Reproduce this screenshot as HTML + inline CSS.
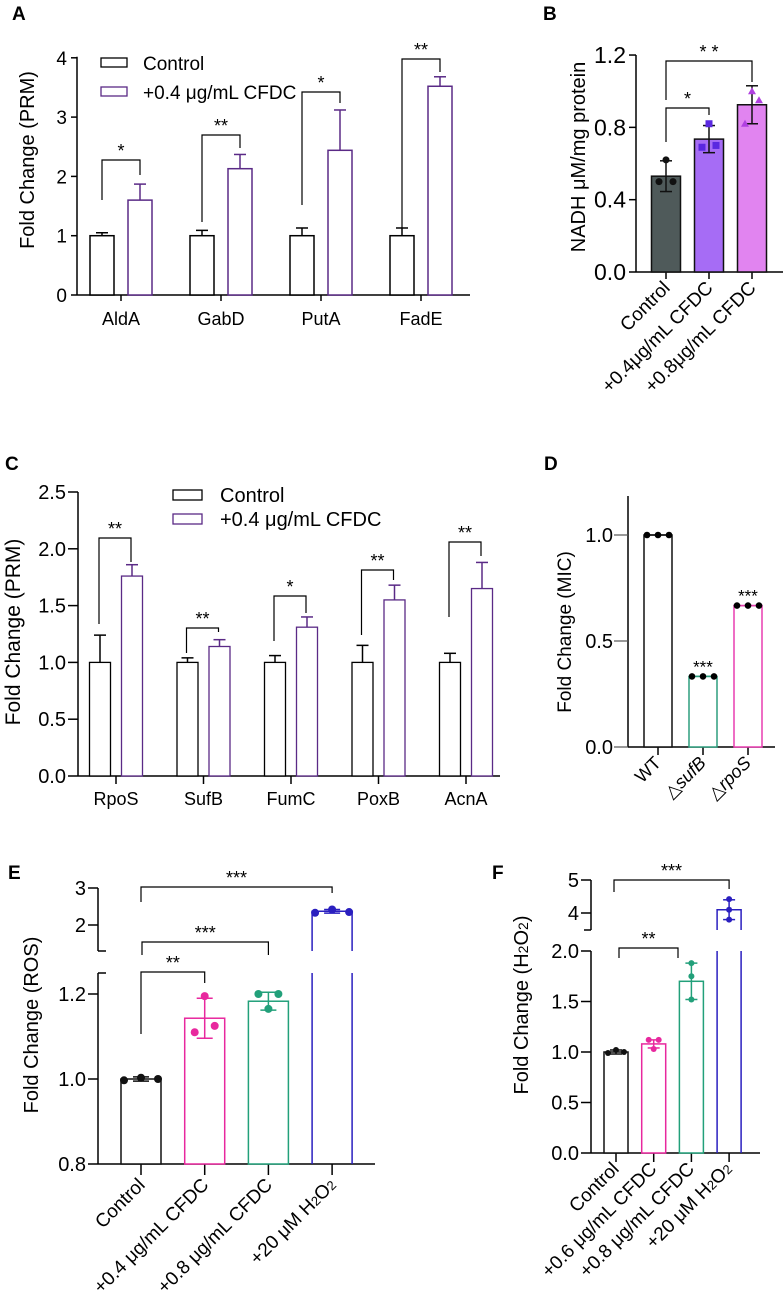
<!DOCTYPE html>
<html><head><meta charset="utf-8">
<style>
html,body{margin:0;padding:0;background:#fff;}
svg{display:block;font-family:"Liberation Sans",Arial,sans-serif;}
</style></head>
<body>
<svg id="fig" width="783" height="1299" viewBox="0 0 783 1299" xmlns="http://www.w3.org/2000/svg"></svg>
<script>
// ---- Panel A data
const aCats=["AldA","GabD","PutA","FadE"];
const aCtrl=[1.0,1.0,1.0,1.0];
const aCtrlErr=[0.05,0.09,0.13,0.13];
const aTrt=[1.6,2.13,2.44,3.52];
const aTrtErr=[0.27,0.24,0.68,0.16];
const aSig=["*","**","*","**"];
const aTicks=[0,1,2,3,4];
// ---- Panel B data
const bCats=["Control","+0.4μg/mL CFDC","+0.8μg/mL CFDC"];
const bMeans=[0.53,0.735,0.925];
const bErr=[0.085,0.075,0.105];
const bPts=[[0.50,0.62,0.50],[0.69,0.82,0.70],[0.82,1.0,0.95]];
const bTicks=[0.0,0.4,0.8,1.2];
// ---- Panel C data
const cCats=["RpoS","SufB","FumC","PoxB","AcnA"];
const cCtrl=[1.0,1.0,1.0,1.0,1.0];
const cCtrlErr=[0.24,0.04,0.06,0.15,0.08];
const cTrt=[1.76,1.14,1.31,1.55,1.65];
const cTrtErr=[0.10,0.06,0.09,0.13,0.23];
const cSig=["**","**","*","**","**"];
const cTicks=[0.0,0.5,1.0,1.5,2.0,2.5];
// ---- Panel D data
const dCats=["WT","sufB","rpoS"];
const dVals=[1.0,0.333,0.667];
const dTicks=[0.0,0.5,1.0];
// ---- Panel E data
const eCats=["Control","+0.4 μg/mL CFDC","+0.8 μg/mL CFDC","+20 μM H"];
const eMeans=[1.0,1.143,1.183,2.37];
const eErr=[0.005,0.047,0.021,0.05];
const ePts=[[0.997,1.003,1.0],[1.11,1.195,1.125],[1.2,1.165,1.2],[2.33,2.42,2.35]];
const eTicksLow=[0.8,1.0,1.2];
const eTicksHigh=[2,3];
// ---- Panel F data
const fCats=["Control","+0.6 μg/mL CFDC","+0.8 μg/mL CFDC","+20 μM H"];
const fMeans=[1.0,1.08,1.70,4.1];
const fErr=[0.02,0.04,0.18,0.3];
const fPts=[[0.99,1.02,1.0],[1.12,1.03,1.12],[1.52,1.75,1.88],[3.8,4.1,4.42]];
const fTicksLow=[0.0,0.5,1.0,1.5,2.0];
const fTicksHigh=[4,5];

const svg=document.getElementById('fig');
const NS="http://www.w3.org/2000/svg";
function mk(tag,at,parent){const e=document.createElementNS(NS,tag);for(const k in at)e.setAttribute(k,at[k]);(parent||svg).appendChild(e);return e;}
function ln(x1,y1,x2,y2,c,w,p){return mk('line',{x1,y1,x2,y2,stroke:c||'#000','stroke-width':w||1.5},p);}
function tx(x,y,s,sz,anchor,p,extra){const t=mk('text',Object.assign({x,y,'font-size':sz,'text-anchor':anchor||'start',fill:'#000'},extra||{}),p);t.textContent=s;return t;}
function grp(name){const g=mk('g',{});return g;}
function bracket(g,x1,x2,yTop,yL,yR,lab,fs){const p=mk('path',{d:`M${x1},${yL}V${yTop}H${x2}V${yR}`,fill:'none',stroke:'#000','stroke-width':1.2},g);const t=tx((x1+x2)/2,yTop-3,lab,fs||18,'middle',g);}
function panelLabel(x,y,s){const t=tx(x,y,s,19,'start',svg,{'font-weight':'bold'});}
function ylab(x,y,s,sz,p){const t=tx(x,y,s,sz,'middle',p,{transform:`rotate(-90 ${x} ${y})`});return t;}
function errbar(g,x,yc,yt,c,hw,both,yb){ln(x,yc,x,yt,c,1.5,g);ln(x-hw,yt,x+hw,yt,c,1.5,g);if(both){ln(x,yc,x,yb,c,1.5,g);ln(x-hw,yb,x+hw,yb,c,1.5,g);}}

// ================= Panel A
panelLabel(12,20,"A");
(function(){
 const g=grp('panel-a-chart');
 const X0=77,X1=470,y=v=>295-v*59.3;
 const cx=i=>121+i*100;
 ln(X0,y(4)-1,X0,295,'#000',1.5,g);ln(X0,295,X1,295,'#000',1.5,g);
 aTicks.forEach(t=>{ln(X0-6,y(t),X0,y(t),'#000',1.5,g);const l=tx(X0-10,y(t)+7,String(t),19,'end',g);});
 const bl=[200,222,205,228],br=[175,148,103,72],bt=[160,135,92,59];
 aCats.forEach((c,i)=>{
  ln(cx(i),295,cx(i),301,'#000',1.5,g);
  const l=tx(cx(i),325,c,18,'middle',g);
  const x1=cx(i)-19,x2=cx(i)+19,w=24;
  errbar(g,x1,y(aCtrl[i]),y(aCtrl[i]+aCtrlErr[i]),'#000',6);
  const r1=mk('rect',{x:x1-w/2,y:y(aCtrl[i]),width:w,height:295-y(aCtrl[i]),fill:'#fff',stroke:'#000','stroke-width':1.5},g);
  
  errbar(g,x2,y(aTrt[i]),y(aTrt[i]+aTrtErr[i]),'#5a2a86',6);
  const r2=mk('rect',{x:x2-w/2,y:y(aTrt[i]),width:w,height:295-y(aTrt[i]),fill:'#fff',stroke:'#5a2a86','stroke-width':1.5},g);
  
  bracket(g,x1,x2,bt[i],bl[i],br[i],aSig[i]);
 });
 ylab(34,160,"Fold Change (PRM)",20,g);
 const lg=grp('legend');
 const e1=mk('rect',{x:101,y:58,width:26,height:9,fill:'#fff',stroke:'#000','stroke-width':1.3},lg);
 tx(143,70,"Control",19,'start',lg);
 const e2=mk('rect',{x:101,y:87,width:26,height:9,fill:'#fff',stroke:'#5a2a86','stroke-width':1.3},lg);
 tx(143,99,"+0.4 μg/mL CFDC",19,'start',lg);
})();

// ================= Panel B
panelLabel(543,20,"B");
(function(){
 const g=grp('panel-b-chart');
 const X0=636,Y0=272,y=v=>Y0-v*180.8;
 const cx=i=>666+i*43;
 const fills=['#4f5a5a','#a66cf5','#e184f0'];
 const pc=['#111','#5a28e0','#b040e0'];
 ln(X0,y(1.2),X0,Y0,'#000',1.5,g);ln(X0,Y0,783,Y0,'#000',1.5,g);
 bTicks.forEach(t=>{ln(X0-7,y(t),X0,y(t),'#000',1.5,g);const l=tx(X0-10,y(t)+8,t.toFixed(1),23,'end',g);});
 bCats.forEach((c,i)=>{
  const x=cx(i);ln(x,Y0,x,Y0+7,'#000',1.5,g);
  const r=mk('rect',{x:x-14.5,y:y(bMeans[i]),width:29,height:Y0-y(bMeans[i]),fill:fills[i],stroke:'#111','stroke-width':1.5},g);
  
  errbar(g,x,y(bMeans[i]),y(bMeans[i]+bErr[i]),'#111',6,true,y(bMeans[i]-bErr[i]));
  bPts[i].forEach((v,j)=>{const px=x+(j-1)*7*(j==1?0:1);
   let m;
   if(i==0)m=mk('circle',{cx:px,cy:y(v),r:3.5,fill:pc[i]},g);
   else if(i==1)m=mk('rect',{x:px-3.5,y:y(v)-3.5,width:7,height:7,fill:pc[i]},g);
   else m=mk('polygon',{points:`${px},${y(v)-4} ${px-4},${y(v)+3} ${px+4},${y(v)+3}`,fill:pc[i]},g);
   });
  const l=tx(x+5,Y0+17,c,19,'end',g,{transform:`rotate(-45 ${x+5} ${Y0+17})`});
 });
 bracket(g,cx(0),cx(1),108,142,115,"*");
 bracket(g,cx(0),cx(2),61,100,82,"* *");
 ylab(585,157,"NADH μM/mg protein",20,g);
})();

// ================= Panel C
panelLabel(5,470,"C");
(function(){
 const g=grp('panel-c-chart');
 const X0=78,X1=500,Y0=776,y=v=>Y0-v*113.6;
 const cx=i=>116+i*87.5;
 ln(X0,y(2.5),X0,Y0,'#000',1.5,g);ln(X0,Y0,X1,Y0,'#000',1.5,g);
 cTicks.forEach(t=>{ln(X0-10,y(t),X0,y(t),'#000',1.5,g);const l=tx(X0-12,y(t)+7,t.toFixed(1),20,'end',g);});
 const bl=[624,653,641,635,617],br=[562,632,613,580,556],bt=[538,628,596,570,542];
 cCats.forEach((c,i)=>{
  const x=cx(i);ln(x,Y0,x,Y0+8,'#000',1.5,g);
  const l=tx(x,805,c,18,'middle',g);
  const x1=x-16,x2=x+16,w=21;
  errbar(g,x1,y(cCtrl[i]),y(cCtrl[i]+cCtrlErr[i]),'#000',6);
  const r1=mk('rect',{x:x1-w/2,y:y(cCtrl[i]),width:w,height:Y0-y(cCtrl[i]),fill:'#fff',stroke:'#000','stroke-width':1.3},g);
  
  errbar(g,x2,y(cTrt[i]),y(cTrt[i]+cTrtErr[i]),'#5a2a86',6);
  const r2=mk('rect',{x:x2-w/2,y:y(cTrt[i]),width:w,height:Y0-y(cTrt[i]),fill:'#fff',stroke:'#5a2a86','stroke-width':1.3},g);
  
  bracket(g,x1-1,x2-1,bt[i],bl[i],br[i],cSig[i]);
 });
 ylab(20,632,"Fold Change (PRM)",21,g);
 const lg=grp('legend');
 const e1=mk('rect',{x:173,y:490,width:29,height:10,fill:'#fff',stroke:'#000','stroke-width':1.3},lg);
 tx(220,502,"Control",20,'start',lg);
 const e2=mk('rect',{x:173,y:514,width:29,height:10,fill:'#fff',stroke:'#5a2a86','stroke-width':1.3},lg);
 tx(220,526,"+0.4 μg/mL CFDC",20,'start',lg);
})();

// ================= Panel D
panelLabel(544,470,"D");
(function(){
 const g=grp('panel-d-chart');
 const X0=628,Y0=747,y=v=>Y0-v*212;
 const cx=i=>658+i*45;
 const cols=['#111','#2e9e7e','#e83eb0'];
 ln(X0,496,X0,Y0,'#000',1.5,g);ln(X0,Y0,775,Y0,'#000',1.5,g);
 dTicks.forEach(t=>{ln(X0-14,y(t),X0,y(t),'#555',1.2,g);const l=tx(X0-15,y(t)+7,t.toFixed(1),20,'end',g);});
 dCats.forEach((c,i)=>{
  const x=cx(i);ln(x,Y0,x,Y0+8,'#000',1.5,g);
  const r=mk('rect',{x:x-14,y:y(dVals[i]),width:28,height:Y0-y(dVals[i]),fill:'#fff',stroke:cols[i],'stroke-width':1.5},g);
  
  ln(x-11,y(dVals[i]),x+11,y(dVals[i]),cols[i],1.5,g);
  [-11,0,11].forEach(dx=>{const m=mk('circle',{cx:x+dx,cy:y(dVals[i]),r:3.3,fill:'#000'},g);});
  if(i>0){const s=tx(x,y(dVals[i])-4,"***",17,'middle',g);}
  const ax=x+4,ay=Y0+17;
  const l=mk('text',{x:ax,y:ay,'font-size':18,'text-anchor':'end',transform:`rotate(-45 ${ax} ${ay})`,fill:'#000'},g);
  
  if(i==0)l.textContent=c;else{const a=mk('tspan',{},l);a.textContent='△';const b=mk('tspan',{'font-style':'italic'},l);b.textContent=c;}
 });
 ylab(571,632,"Fold Change (MIC)",19,g);
})();

// ================= Panel E
panelLabel(8,879,"E");
(function(){
 const g=grp('panel-e-chart');
 const X0=98,Y0=1164;
 const y=v=>v<=1.3?Y0-(v-0.8)*425:925-(v-2)*37;
 const cx=i=>141+i*63.7;
 const cols=['#111','#e8289e','#22a07a','#2a1fbf'];
 ln(X0,973,X0,Y0,'#000',1.5,g);ln(X0,888,X0,951,'#000',1.5,g);
 ln(X0,973,X0+8,973,'#000',1.5,g);ln(X0,951,X0+8,951,'#000',1.5,g);
 ln(X0,Y0,375,Y0,'#000',1.5,g);
 eTicksLow.forEach(t=>{ln(X0-10,y(t),X0,y(t),'#000',1.5,g);const l=tx(X0-12,y(t)+7,t.toFixed(1),20,'end',g);});
 eTicksHigh.forEach(t=>{ln(X0-10,y(t),X0,y(t),'#000',1.5,g);const l=tx(X0-12,y(t)+7,String(t),20,'end',g);});
 eCats.forEach((c,i)=>{
  const x=cx(i),hw=20;ln(x,Y0,x,Y0+11,'#000',1.5,g);
  if(eMeans[i]<1.3){
   const r=mk('rect',{x:x-hw,y:y(eMeans[i]),width:2*hw,height:Y0-y(eMeans[i]),fill:'#fff',stroke:cols[i],'stroke-width':1.5},g);
   
  } else {
   const r=mk('path',{d:`M${x-hw},${Y0}V973M${x+hw},${Y0}V973M${x-hw},951V${y(eMeans[i])}H${x+hw}V951`,fill:'none',stroke:cols[i],'stroke-width':1.5},g);
   
  }
  errbar(g,x,y(eMeans[i]),y(eMeans[i]+eErr[i]),cols[i],8,true,y(eMeans[i]-eErr[i]));
  ePts[i].forEach((v,j)=>{const m=mk('circle',{cx:x+(j-1)*(i==3?17:i==0?17:10),cy:y(v),r:4,fill:cols[i]},g);});
  const ax=x+5,ay=Y0+22;
  const l=mk('text',{x:ax,y:ay,'font-size':19,'text-anchor':'end',transform:`rotate(-45 ${ax} ${ay})`,fill:'#000'},g);
  
  if(i<3)l.textContent=c;else{l.textContent=c;const a=mk('tspan',{'font-size':13},l);a.textContent='2';const b=mk('tspan',{},l);b.textContent='O';const d=mk('tspan',{'font-size':13},l);d.textContent='2';}
 });
 bracket(g,cx(0),cx(3),887,902,893,"***");
 bracket(g,cx(0)+1,cx(2),942,955,955,"***");
 bracket(g,cx(0),cx(1),972,1034,983,"**");
 ylab(38,1025,"Fold Change (ROS)",20,g);
})();

// ================= Panel F
panelLabel(492,879,"F");
(function(){
 const g=grp('panel-f-chart');
 const X0=591,Y0=1153;
 const y=v=>v<=2.2?Y0-v*101:913-(v-4)*33;
 const cx=i=>616+i*37.7;
 const cols=['#111','#e8289e','#22a07a','#2a1fbf'];
 ln(X0,951,X0,Y0,'#000',1.5,g);ln(X0,880,X0,930,'#000',1.5,g);
 ln(X0-7,930,X0,930,'#000',1.5,g);
 ln(X0,Y0,760,Y0,'#000',1.5,g);
 fTicksLow.forEach(t=>{ln(X0-10,y(t),X0,y(t),'#000',1.5,g);const l=tx(X0-12,y(t)+7,t.toFixed(1),20,'end',g);});
 fTicksHigh.forEach(t=>{ln(X0-10,y(t),X0,y(t),'#000',1.5,g);const l=tx(X0-12,y(t)+7,String(t),20,'end',g);});
 fCats.forEach((c,i)=>{
  const x=cx(i),hw=12;ln(x,Y0,x,Y0+9,'#000',1.5,g);
  if(fMeans[i]<2.2){
   const r=mk('rect',{x:x-hw,y:y(fMeans[i]),width:2*hw,height:Y0-y(fMeans[i]),fill:'#fff',stroke:cols[i],'stroke-width':1.5},g);
   
  } else {
   const r=mk('path',{d:`M${x-hw},${Y0}V951M${x+hw},${Y0}V951M${x-hw},930V${y(fMeans[i])}H${x+hw}V930`,fill:'none',stroke:cols[i],'stroke-width':1.5},g);
   
  }
  errbar(g,x,y(fMeans[i]),y(fMeans[i]+fErr[i]),cols[i],6,true,y(fMeans[i]-fErr[i]));
  fPts[i].forEach((v,j)=>{const dx=i==0?(j-1)*8:(i==1?(j-1)*5:0);const m=mk('circle',{cx:x+dx,cy:y(v),r:3,fill:cols[i]},g);});
  const ax=x+4,ay=Y0+17;
  const l=mk('text',{x:ax,y:ay,'font-size':19,'text-anchor':'end',transform:`rotate(-45 ${ax} ${ay})`,fill:'#000'},g);
  
  if(i<3)l.textContent=c;else{l.textContent=c;const a=mk('tspan',{'font-size':13},l);a.textContent='2';const b=mk('tspan',{},l);b.textContent='O';const d=mk('tspan',{'font-size':13},l);d.textContent='2';}
 });
 bracket(g,cx(0)-2,cx(3),880,892,889,"***");
 bracket(g,cx(0)+3,678,948,958,958,"**");
 const yl=ylab(528,1005,"",20,g);
 yl.textContent="Fold Change (H";const s1=mk('tspan',{'font-size':14},yl);s1.textContent='2';const s2=mk('tspan',{},yl);s2.textContent='O';const s3=mk('tspan',{'font-size':14},yl);s3.textContent='2';const s4=mk('tspan',{},yl);s4.textContent=')';
})();
</script>
</body></html>
